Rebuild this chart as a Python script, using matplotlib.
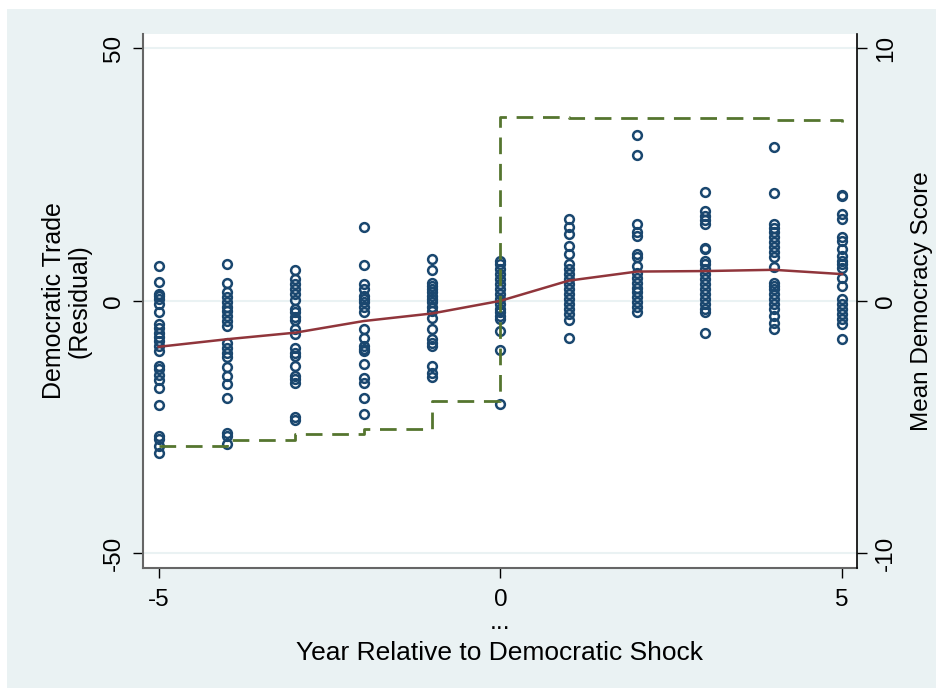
import matplotlib
matplotlib.use("Agg")
import matplotlib.pyplot as plt
import matplotlib.transforms as mtransforms
from matplotlib.patches import Rectangle

plt.rcParams['font.family'] = ['Liberation Sans', 'DejaVu Sans']

# residual democratic trade, one list per year relative to the shock
years = [-5, -4, -3, -2, -1, 0, 1, 2, 3, 4, 5]
resid = {
    -5: [6.9, 3.8, 1.3, 0.9, 0.3, -0.7, -2.3, -4.5, -5.4, -6.3, -7.1, -7.9, -8.9, -9.9,
         -12.9, -13.4, -14.6, -15.7, -17.2, -20.6, -26.8, -27.4, -28.8, -30.1],
    -4: [7.3, 3.6, 1.7, 0.7, -0.3, -1.3, -2.0, -3.0, -4.0, -5.0, -8.3, -9.3, -10.3, -11.2,
         -13.2, -14.9, -16.5, -19.2, -26.1, -26.8, -28.4],
    -3: [6.1, 4.3, 3.3, 2.3, 1.3, 0.1, -1.6, -2.3, -3.2, -3.8, -5.6, -6.6, -9.3, -10.3,
         -10.9, -12.9, -14.9, -15.5, -16.2, -23.1, -23.5],
    -2: [14.6, 7.1, 3.4, 2.3, 1.0, 0.3, -0.3, -1.3, -2.3, -5.5, -7.3, -8.9, -9.6, -9.9,
         -12.6, -15.2, -16.2, -19.2, -22.5],
    -1: [8.3, 6.1, 3.6, 3.0, 2.3, 1.7, 1.0, 0.3, -0.3, -1.2, -2.0, -3.3, -5.6, -7.6,
         -8.3, -8.9, -12.9, -14.2, -15.1],
    0: [7.9, 7.3, 6.3, 5.3, 4.3, 3.3, 2.3, 1.3, 0.3, -0.7, -1.6, -2.3, -3.0, -3.6,
        -6.0, -9.8, -20.5],
    1: [16.2, 14.6, 13.2, 10.9, 9.3, 7.3, 6.3, 5.3, 4.3, 3.3, 2.3, 1.3, 0.3, -0.7,
        -1.6, -2.6, -3.8, -7.3],
    2: [32.9, 28.9, 15.2, 13.6, 12.9, 9.3, 8.6, 6.9, 5.6, 4.6, 3.6, 2.6, 1.7, 0.7,
        -0.3, -1.3, -2.3],
    3: [21.6, 17.7, 16.9, 16.0, 15.2, 10.4, 10.2, 7.9, 7.3, 6.3, 5.3, 4.3, 3.3, 2.3, 1.3,
        0.3, -0.7, -1.6, -2.3, -6.4],
    4: [30.4, 21.3, 15.2, 14.4, 13.6, 12.6, 11.6, 10.6, 9.6, 8.6, 6.7, 3.6, 3.0, 2.3,
        1.3, 0.3, -0.7, -1.6, -3.0, -4.3, -5.6],
    5: [21.0, 20.8, 17.2, 16.2, 12.7, 11.9, 10.3, 8.9, 7.9, 7.3, 6.6, 4.6, 3.0, 0.3,
        -0.7, -1.6, -2.6, -3.6, -4.6, -7.6],
}
mean_resid = [-9.1, -7.6, -6.3, -4.0, -2.5, 0.0, 4.0, 5.8, 5.9, 6.15, 5.3]
mean_democ = [-5.73, -5.52, -5.28, -5.08, -3.97, 7.28, 7.24, 7.24, 7.26, 7.16, 7.08]

navy = '#1a476f'
maroon = '#90353b'
forest = '#55752f'
bg = '#eaf2f3'

fig = plt.figure(figsize=(9.37, 6.88), dpi=100, facecolor='white')
fig.patches.append(Rectangle((7 / 937, 0), 1, 1 - 9 / 688, transform=fig.transFigure,
                             facecolor=bg, edgecolor='none', zorder=-10))

ax = fig.add_axes([143 / 937, 1 - 567.7 / 688, 714 / 937, 533.7 / 688])
ax.set_facecolor('white')

for yr in years:
    ax.plot([yr] * len(resid[yr]), resid[yr], linestyle='none', marker='o',
            markersize=6.3, markerfacecolor='none', markeredgecolor=navy,
            markeredgewidth=1.8, zorder=3)
ax.plot(years, mean_resid, color=maroon, linewidth=1.8, zorder=4)

ax.set_xlim(-5.23, 5.22)
ax.set_ylim(-52.85, 52.85)
ax.set_yticks([-50, 0, 50])
ax.set_yticklabels(['-50', '0', '50'], rotation=90, va='center', fontsize=17.5)
ax.set_xticks([-5, 0, 5])
ax.set_xticklabels(['-5', '0', '5'], fontsize=17.5)
for v in [-50, 0, 50]:
    ax.axhline(v, color=bg, linewidth=1.5, zorder=1)
ax.tick_params(axis='both', direction='out', length=7, width=1, color='black', pad=6)
ax.tick_params(axis='x', pad=8)

for side in ['top', 'right']:
    ax.spines[side].set_visible(False)
ax.spines['left'].set_color('#666666')
ax.spines['bottom'].set_color('#666666')
ax.spines['left'].set_linewidth(1.5)
ax.spines['bottom'].set_linewidth(1.5)

ax.set_ylabel('Democratic Trade\n(Residual)', fontsize=18, labelpad=8, linespacing=1.1)

# the "..." line and the axis title below the x tick labels
trans = mtransforms.blended_transform_factory(ax.transData, fig.transFigure)
ax.text(0, 1 - 622 / 688, '...', transform=trans, ha='center', va='center', fontsize=18)
fig.text(500 / 937, 1 - 653 / 688, 'Year Relative to Democratic Shock', ha='center',
         va='center', fontsize=19)

ax2 = ax.twinx()
ax2.step(years, mean_democ, where='post', color=forest, linewidth=2,
         linestyle=(0, (6, 3.5)), zorder=5)
ax2.set_ylim(-10.57, 10.57)
ax2.set_yticks([-10, 0, 10])
ax2.set_yticklabels(['-10', '0', '10'], rotation=90, va='center', fontsize=17.5)
ax2.tick_params(axis='y', direction='out', length=7, width=1, color='black', pad=6)
for side in ['top', 'left', 'bottom']:
    ax2.spines[side].set_visible(False)
ax2.spines['right'].set_color('black')
ax2.spines['right'].set_linewidth(1.2)
ax2.set_ylabel('Mean Democracy Score', fontsize=17.5, labelpad=10)

fig.savefig('out.png', dpi=100, facecolor=fig.get_facecolor())
